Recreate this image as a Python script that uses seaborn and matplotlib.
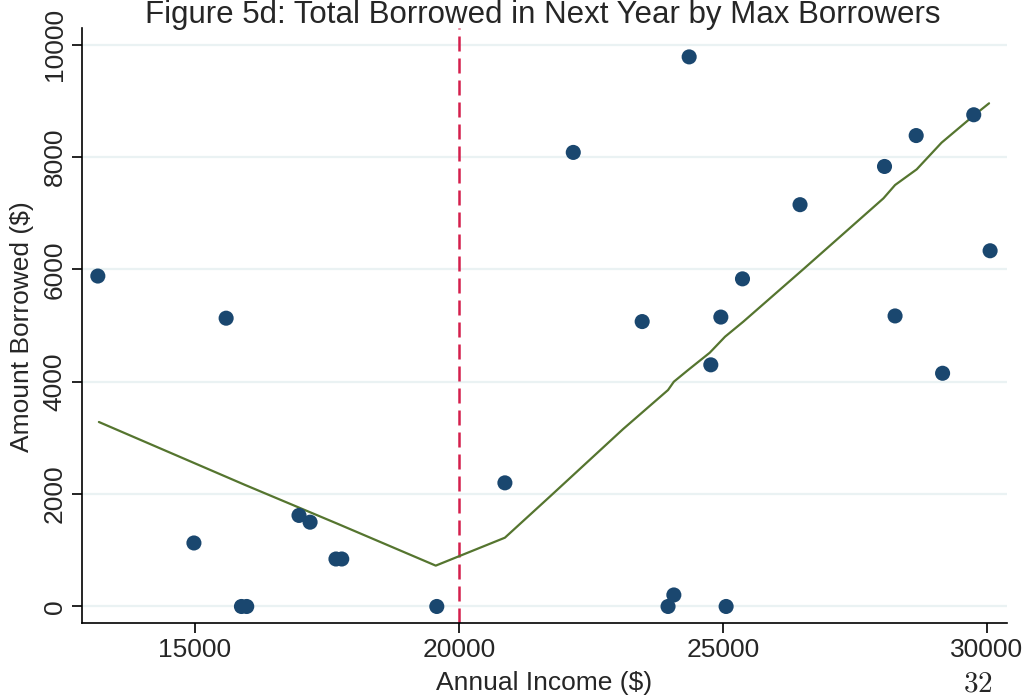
import matplotlib
matplotlib.use("Agg")
import matplotlib.pyplot as plt
import seaborn as sns
import pandas as pd

# scatter points: annual income vs amount borrowed next year
income = [13160, 14980, 15590, 15880, 15980, 16970, 17180, 17670, 17780,
          19580, 20870, 22165, 23470, 23960, 24070, 24360, 24770, 24960,
          25060, 25370, 26460, 28060, 28260, 28660, 29160, 29750, 30060]
borrowed = [5880, 1130, 5130, 0, 0, 1620, 1500, 845, 845,
            0, 2200, 8080, 5070, 0, 205, 9780, 4300, 5150,
            0, 5830, 7150, 7830, 5170, 8380, 4150, 8750, 6330]

# smoothed (lowess) fit
fit_x = [13180, 15950, 17710, 19560, 20870, 21720, 23110, 23960, 24070,
         24340, 24750, 25040, 25385, 26520, 28040, 28260, 28670, 29140,
         29740, 30040]
fit_y = [3283, 2162, 1468, 727, 1224, 1954, 3158, 3852, 4000,
         4208, 4516, 4801, 5068, 6000, 7263, 7500, 7779, 8253,
         8728, 8954]

cutoff = 20000
xticks = [15000, 20000, 25000, 30000]
yticks = [0, 2000, 4000, 6000, 8000, 10000]

NAVY = "#1a476f"
GREEN = "#55752f"
RED = "#d41f4c"
GRID = "#eaf2f3"

sns.set_style("white")
plt.rcParams["font.family"] = ["Liberation Sans", "DejaVu Sans"]
plt.rcParams["mathtext.fontset"] = "cm"

fig = plt.figure(figsize=(10.28, 6.97), dpi=100)
ax = fig.add_axes([82 / 1028, 1 - 623 / 697, (1007 - 82) / 1028, (623 - 28) / 697])

df = pd.DataFrame({"income": income, "borrowed": borrowed})
fit = pd.DataFrame({"x": fit_x, "y": fit_y})

# light horizontal gridlines (Stata s2color look)
for yt in yticks:
    ax.axhline(yt, color=GRID, lw=1.6, zorder=0)

ax.axvline(cutoff, color=RED, lw=1.8, linestyle=(0, (6, 2.8)), zorder=1)
sns.lineplot(data=fit, x="x", y="y", color=GREEN, lw=1.6, sort=False,
             estimator=None, ax=ax, zorder=2)
sns.scatterplot(data=df, x="income", y="borrowed", color=NAVY, s=118,
                edgecolor="none", linewidth=0, ax=ax, zorder=3)

ax.set_xlim(12860, 30380)
ax.set_ylim(-294, 10294)
ax.set_xticks(xticks)
ax.set_yticks(yticks)
ax.set_xticklabels([str(t) for t in xticks], fontsize=19)
ax.set_yticklabels([str(t) for t in yticks], fontsize=19, rotation=90, va="center")
ax.tick_params(axis="both", direction="out", length=7, width=1.2, color="black",
               bottom=True, left=True, pad=4)
ax.set_xlabel("")
ax.set_ylabel("")

for side in ["top", "right"]:
    ax.spines[side].set_visible(False)
for side in ["left", "bottom"]:
    ax.spines[side].set_color("black")
    ax.spines[side].set_linewidth(1.2)

fig.text(543 / 1028, 1 - 23 / 697, "Figure 5d: Total Borrowed in Next Year by Max Borrowers",
         ha="center", va="baseline", fontsize=22.5)
fig.text(544 / 1028, 1 - 690 / 697, "Annual Income (\\$)", ha="center", va="baseline",
         fontsize=19)
fig.text(22 / 1028, 1 - 327 / 697, "Amount Borrowed (\\$)", ha="center", va="center",
         rotation=90, fontsize=19)
fig.text(978 / 1028, 1 - 692 / 697, r"$32$", ha="center", va="baseline", fontsize=21)

fig.savefig("out.png", dpi=100)
